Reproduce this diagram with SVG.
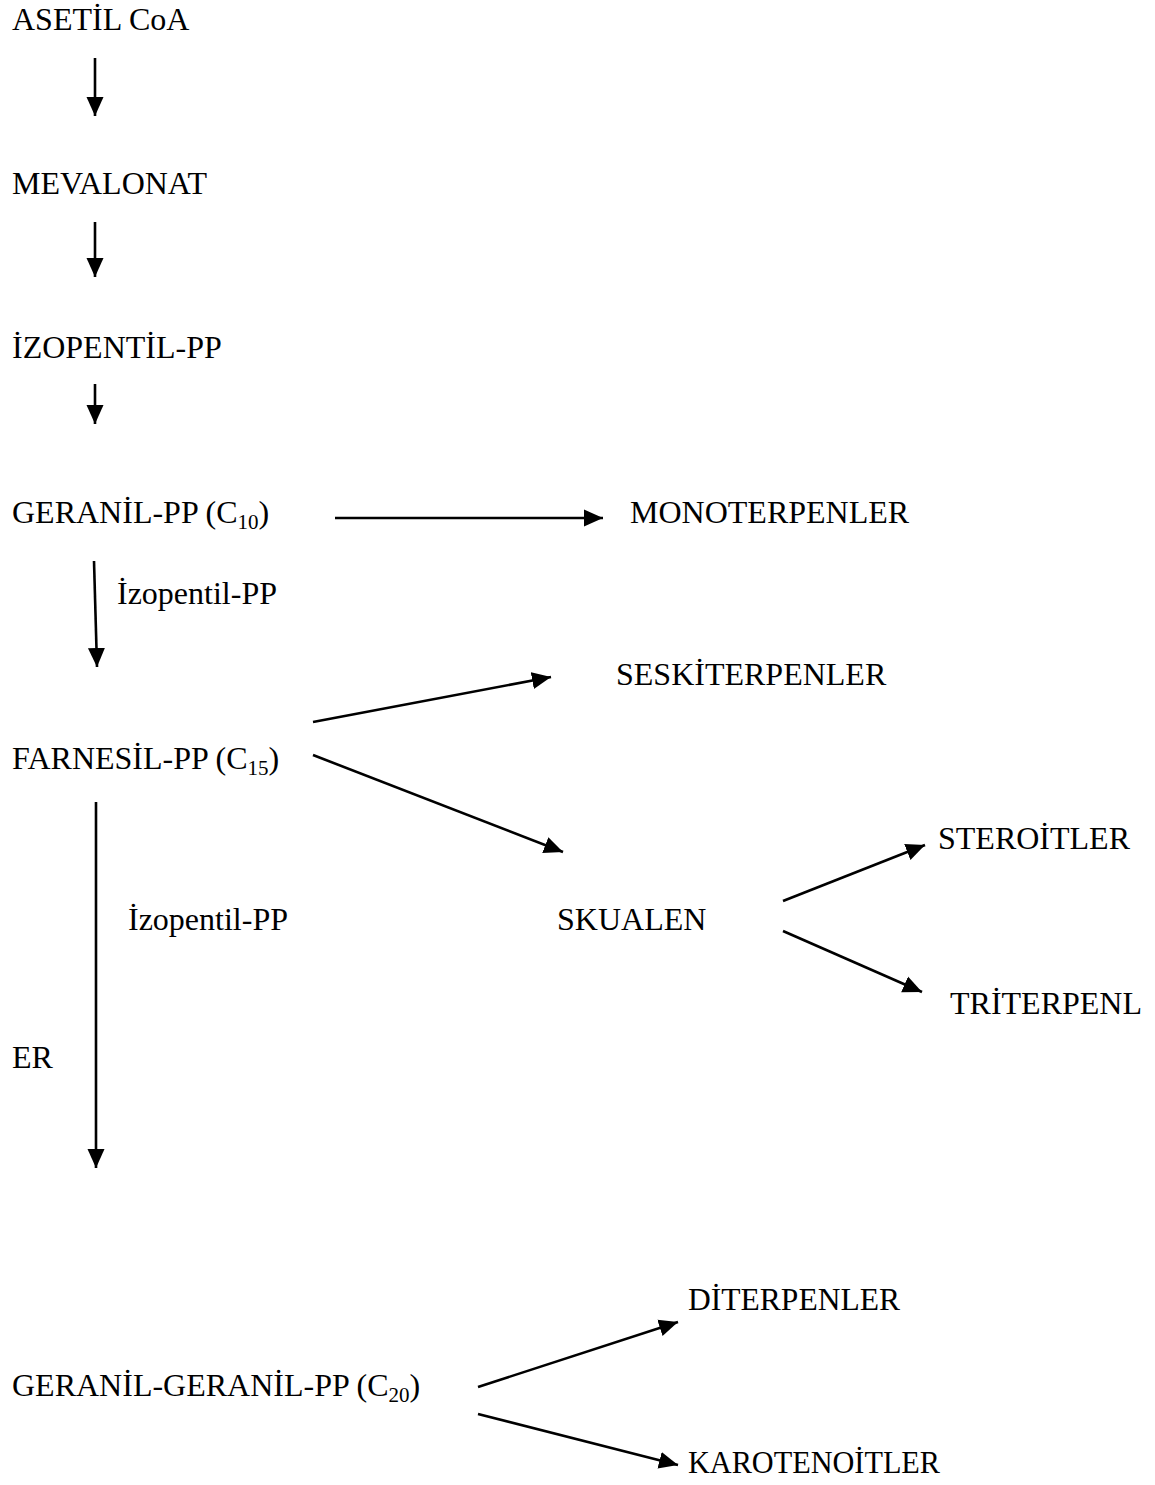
<svg xmlns="http://www.w3.org/2000/svg" width="1155" height="1485" viewBox="0 0 1155 1485">
<style>
text{font-family:"Liberation Serif","Times New Roman",serif;font-size:32px;fill:#000}
.sub{font-size:21px}
.c line{stroke:#000;stroke-width:2.6;marker-end:url(#ah)}
</style>
<defs>
<marker id="ah" markerUnits="userSpaceOnUse" markerWidth="20" markerHeight="20" viewBox="0 0 20 20" refX="19" refY="10" orient="auto">
<path d="M0,1.5 L19,10 L0,18.5 Z" fill="#000"/>
</marker>
</defs>
<rect width="1155" height="1485" fill="#fff"/>
<g id="n-asetil"><text x="12" y="30">ASETİL CoA</text></g>
<g id="n-mevalonat"><text x="12" y="194">MEVALONAT</text></g>
<g id="n-izopentil"><text x="12" y="358">İZOPENTİL-PP</text></g>
<g id="n-geranil"><text x="12" y="523">GERANİL-PP (C<tspan class="sub" dy="6">10</tspan><tspan dy="-6">)</tspan></text></g>
<g id="n-mono"><text x="630" y="523">MONOTERPENLER</text></g>
<g id="l-izo1"><text x="117" y="604">İzopentil-PP</text></g>
<g id="n-seski"><text x="616" y="685">SESKİTERPENLER</text></g>
<g id="n-farnesil"><text x="12" y="769">FARNESİL-PP (C<tspan class="sub" dy="6">15</tspan><tspan dy="-6">)</tspan></text></g>
<g id="n-steroit"><text x="938" y="849">STEROİTLER</text></g>
<g id="l-izo2"><text x="128" y="930">İzopentil-PP</text></g>
<g id="n-skualen"><text x="557" y="930">SKUALEN</text></g>
<g id="n-triterpen"><text x="950" y="1014">TRİTERPENL</text></g>
<g id="l-er"><text x="12" y="1068">ER</text></g>
<g id="n-diterpen"><text x="688" y="1310" textLength="212" lengthAdjust="spacingAndGlyphs">DİTERPENLER</text></g>
<g id="n-gg"><text x="12" y="1396">GERANİL-GERANİL-PP (C<tspan class="sub" dy="6">20</tspan><tspan dy="-6">)</tspan></text></g>
<g id="n-karoten"><text x="688" y="1473" textLength="252" lengthAdjust="spacingAndGlyphs">KAROTENOİTLER</text></g>
<g id="connectors" class="c">
<line x1="95" y1="58" x2="95" y2="116"/>
<line x1="95" y1="222" x2="95" y2="277"/>
<line x1="95" y1="384" x2="95" y2="424"/>
<line x1="335" y1="518" x2="603" y2="518"/>
<line x1="94" y1="561" x2="97" y2="667"/>
<line x1="313" y1="722" x2="551" y2="677"/>
<line x1="313" y1="755" x2="563" y2="852"/>
<line x1="96" y1="802" x2="96" y2="1168"/>
<line x1="783" y1="901" x2="925" y2="845"/>
<line x1="783" y1="931" x2="922" y2="992"/>
<line x1="478" y1="1387" x2="678" y2="1322"/>
<line x1="478" y1="1414" x2="678" y2="1465"/>
</g>
</svg>
